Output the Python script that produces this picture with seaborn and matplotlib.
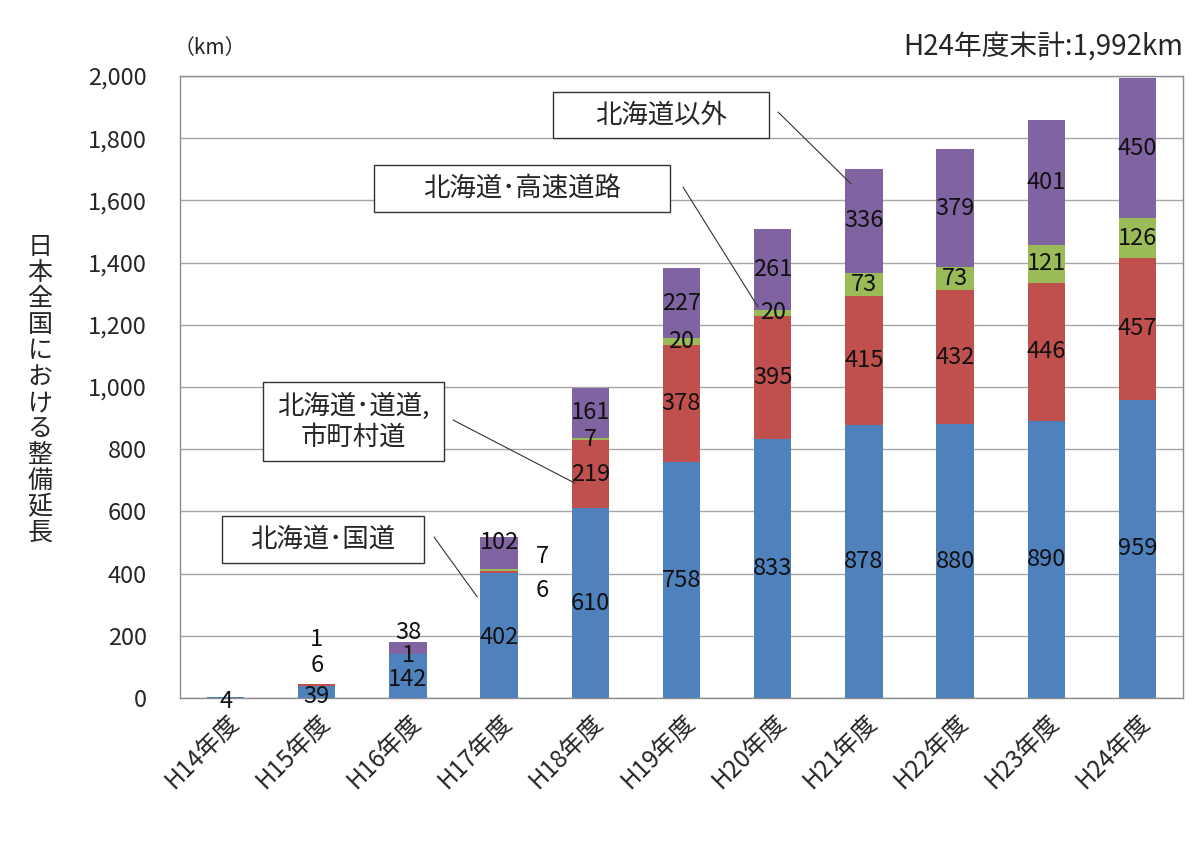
import numpy as np
import pandas as pd
import matplotlib
matplotlib.use('Agg')
import matplotlib.pyplot as plt
from matplotlib.patches import Rectangle
from matplotlib.ticker import FuncFormatter
import seaborn as sns

years = ['H14年度', 'H15年度', 'H16年度', 'H17年度', 'H18年度', 'H19年度',
         'H20年度', 'H21年度', 'H22年度', 'H23年度', 'H24年度']
kokudo = [4, 39, 142, 402, 610, 758, 833, 878, 880, 890, 959]
dodo = [0, 6, 0, 6, 219, 378, 395, 415, 432, 446, 457]
kosoku = [0, 0, 1, 7, 7, 20, 20, 73, 73, 121, 126]
igai = [0, 1, 38, 102, 161, 227, 261, 336, 379, 401, 450]

colors = ['#4F81BD', '#C0504D', '#9BBB59', '#8064A2']

sns.set_style('white')
plt.rcParams['font.family'] = ['Noto Sans CJK JP', 'DejaVu Sans']

W, H = 1204, 842
df = pd.DataFrame({'year': years, 'kokudo': kokudo, 'dodo': dodo,
                   'kosoku': kosoku, 'igai': igai})
layers = ['kokudo', 'dodo', 'kosoku', 'igai']
cum = df[layers].cumsum(axis=1)

fig = plt.figure(figsize=(W / 100, H / 100), dpi=100)
ax = fig.add_axes([180 / W, 1 - 698 / H, 1003 / W, 622 / H])

# draw from the top layer down so lower layers cover the upper ones
for i in range(len(layers) - 1, -1, -1):
    sns.barplot(x=df['year'], y=cum[layers[i]], color=colors[i], width=0.41,
                saturation=1, linewidth=0, ax=ax, zorder=3)

ax.set_ylim(0, 2000)
ax.set_xlim(-0.5, len(years) - 0.5)
ax.set_yticks(np.arange(0, 2001, 200))
ax.yaxis.set_major_formatter(FuncFormatter(lambda v, p: f'{int(v):,}'))
ax.grid(axis='y', color='#A6A6A6', linewidth=1, zorder=0)
ax.set_axisbelow(True)
for s in ax.spines.values():
    s.set_color('#8C8C8C')
    s.set_linewidth(1)
ax.tick_params(axis='y', labelsize=17, length=0, pad=24)
ax.tick_params(axis='x', labelsize=17.5, length=0, pad=8)
ax.set_xlabel('')
ax.set_ylabel('')
for lab in ax.get_xticklabels():
    lab.set_rotation(45)
    lab.set_ha('right')
    lab.set_rotation_mode('anchor')

# data labels: centred in segment, a few small ones moved like the original
overrides = {
    (0, 0): (0, -10),
    (1, 0): (0, 5), (1, 1): (0, 106), (1, 3): (0, 187),
    (2, 0): (0, 60), (2, 2): (0, 138), (2, 3): (0, 212),
    (3, 0): (0, 196), (3, 1): (0.47, 347), (3, 2): (0.47, 455), (3, 3): (0, 500),
}
for xi in range(len(years)):
    base = 0
    for li, name in enumerate(layers):
        v = df[name][xi]
        if v > 0:
            dx, y = overrides.get((xi, li), (0, base + v / 2))
            ax.text(xi + dx, y, str(v), ha='center', va='center', fontsize=17,
                    color='#111111', zorder=5)
        base += v

# callout boxes (figure pixels) with leader lines to the bars
callouts = [
    ('北海道以外', (553, 92, 769, 138), (778, 112), (6.86, 1653)),
    ('北海道･高速道路', (374, 165, 670, 212), (683, 187), (5.84, 1257)),
    ('北海道･道道,\n市町村道', (263, 382, 444, 461), (453, 420), (3.83, 691)),
    ('北海道･国道', (222, 516, 424, 563), (434, 537), (2.76, 325)),
]
for text, (x0, y0, x1, y1), (lx, ly), (px, py) in callouts:
    fig.add_artist(Rectangle((x0 / W, 1 - y1 / H), (x1 - x0) / W, (y1 - y0) / H,
                             transform=fig.transFigure, fc='white', ec='#333333',
                             lw=1, zorder=6))
    fig.text((x0 + x1) / 2 / W, 1 - (y0 + y1) / 2 / H, text, fontsize=19,
             ha='center', va='center', linespacing=1.15, zorder=7)
    ax.annotate('', xy=(px, py), xytext=(lx, H - ly), textcoords='figure pixels',
                arrowprops=dict(arrowstyle='-', color='#333333', lw=0.8,
                                shrinkA=0, shrinkB=0),
                zorder=6, annotation_clip=False)

fig.text(210 / W, 1 - 48 / H, '（km）', fontsize=15, ha='center', va='center')
fig.text(1183 / W, 1 - 48 / H, 'H24年度末計:1,992km', fontsize=20,
         ha='right', va='center')
fig.text(40 / W, 1 - 390 / H, '\n'.join('日本全国における整備延長'),
         fontsize=18, ha='center', va='center', linespacing=1.0)

fig.savefig('out.png', dpi=100)
